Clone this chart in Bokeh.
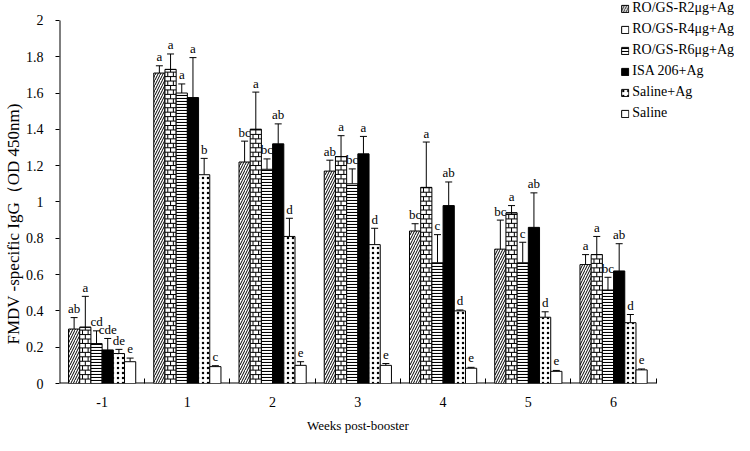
import numpy as np
from bokeh.plotting import figure
from bokeh.models import (ColumnDataSource, FixedTicker, Whisker, TeeHead, Legend,
                          LegendItem, Range1d)
from bokeh.core.properties import value
from bokeh.embed import file_html
from bokeh.resources import INLINE

# ---------------- data ----------------
weeks = ["-1", "1", "2", "3", "4", "5", "6"]
series_names = ["RO/GS-R2μg+Ag", "RO/GS-R4μg+Ag", "RO/GS-R6μg+Ag",
                "ISA 206+Ag", "Saline+Ag", "Saline"]

mean_r2 = [0.30, 1.71, 1.22, 1.17, 0.84, 0.74, 0.655]
mean_r4 = [0.31, 1.73, 1.40, 1.25, 1.08, 0.94, 0.71]
mean_r6 = [0.22, 1.60, 1.18, 1.10, 0.665, 0.665, 0.515]
mean_isa = [0.185, 1.575, 1.32, 1.265, 0.98, 0.86, 0.62]
mean_salag = [0.165, 1.15, 0.81, 0.765, 0.40, 0.365, 0.335]
mean_sal = [0.12, 0.093, 0.10, 0.10, 0.084, 0.067, 0.075]

sd_r2 = [0.063, 0.04, 0.115, 0.06, 0.04, 0.16, 0.055]
sd_r4 = [0.17, 0.085, 0.205, 0.115, 0.25, 0.04, 0.10]
sd_r6 = [0.07, 0.05, 0.057, 0.082, 0.155, 0.113, 0.07]
sd_isa = [0.063, 0.22, 0.11, 0.096, 0.13, 0.19, 0.15]
sd_salag = [0.023, 0.09, 0.10, 0.09, 0.005, 0.03, 0.045]
sd_sal = [0.02, 0.005, 0.02, 0.01, 0.005, 0.005, 0.005]

let_r2 = ["ab", "a", "bc", "ab", "bc", "bc", "a"]
let_r4 = ["a", "a", "a", "a", "a", "a", "a"]
let_r6 = ["cd", "a", "bc", "bc", "c", "c", "bc"]
let_isa = ["cde", "a", "ab", "a", "ab", "ab", "ab"]
let_salag = ["de", "b", "d", "d", "d", "d", "d"]
let_sal = ["e", "c", "e", "e", "e", "e", "e"]

y_ticks = [0, 0.2, 0.4, 0.6, 0.8, 1, 1.2, 1.4, 1.6, 1.8, 2]
y_tick_labels = ["0", "0.2", "0.4", "0.6", "0.8", "1", "1.2", "1.4", "1.6", "1.8", "2"]

means = [mean_r2, mean_r4, mean_r6, mean_isa, mean_salag, mean_sal]
sds = [sd_r2, sd_r4, sd_r6, sd_isa, sd_salag, sd_sal]
letters = [let_r2, let_r4, let_r6, let_isa, let_salag, let_sal]

# ---------------- layout ----------------
FONT = "Liberation Serif"
W, H = 734, 435
LEFT, BOTTOM = 53, 50           # border sizes (px)
CAT_PX = 86                      # px per week category
PLOT_H = 365                     # px from 0 to y_max (2)
n_cat = len(weeks)
y_max = y_ticks[-1]
frame_w = W - LEFT
frame_h = H - BOTTOM
x_end = -0.5 + frame_w / CAT_PX
y_end = y_max * frame_h / PLOT_H

styles = [
    dict(fill_color="white", hatch_pattern="/", hatch_color="black", hatch_scale=5, hatch_weight=1.0),
    dict(fill_color="white"),
    dict(fill_color="white", hatch_pattern="-", hatch_color="black", hatch_scale=3, hatch_weight=1.1),
    dict(fill_color="black"),
    dict(fill_color="white", hatch_pattern=".", hatch_color="black", hatch_scale=5, hatch_weight=0.6),
    dict(fill_color="white"),
]

p = figure(width=W, height=H, output_backend="svg", toolbar_location=None,
           x_range=Range1d(-0.5, x_end), y_range=Range1d(0, y_end),
           min_border_left=LEFT, min_border_right=0, min_border_top=0,
           min_border_bottom=BOTTOM)
p.outline_line_color = None
p.grid.visible = False
p.background_fill_color = "white"

# axis lines (only over the data region, like the original)
p.segment(x0=[-0.5, -0.5], y0=[0, 0], x1=[-0.5, n_cat - 0.5], y1=[y_max, 0],
          line_color="black", line_width=2)

n = len(series_names)
bw = 0.1314
base = np.arange(n_cat)
items = []
BRICK_H = 0.0245  # brick row height in data units (y)
for i in range(n):
    x = base + (i - (n - 1) / 2) * bw
    m = np.array(means[i])
    s = np.array(sds[i])
    src = ColumnDataSource(dict(x=x, top=m, upper=m + s, lab=letters[i]))
    r = p.vbar(x="x", top="top", width=bw, bottom=0, source=src,
               line_color="black", line_width=1, **styles[i])
    if i == 1:
        hx0, hx1, hy = [], [], []
        vx, vy0, vy1 = [], [], []
        for xc, tp in zip(x, m):
            k = 0
            yb = 0.0
            while yb < tp - 1e-9:
                yt = min(yb + BRICK_H, tp)
                hx0.append(xc - bw / 2); hx1.append(xc + bw / 2); hy.append(yt)
                cols = [xc] if k % 2 == 0 else [xc - bw / 4, xc + bw / 4]
                for cx in cols:
                    vx.append(cx); vy0.append(yb); vy1.append(yt)
                yb = yt
                k += 1
        p.segment(x0=hx0, y0=hy, x1=hx1, y1=hy, line_color="black", line_width=1)
        p.segment(x0=vx, y0=vy0, x1=vx, y1=vy1, line_color="black", line_width=1)
    items.append(LegendItem(label=series_names[i], renderers=[r]))
    w = Whisker(source=src, base="x", lower="top", upper="upper",
                line_color="black", line_width=1,
                upper_head=TeeHead(size=7, line_color="black", line_width=1),
                lower_head=None)
    p.add_layout(w)
    p.text(x="x", y="upper", text="lab", source=src, text_font=value(FONT),
           text_font_size="13px", text_align="center", text_baseline="alphabetic",
           y_offset=-9, text_color="black")

legend = Legend(items=items, location="top_right", glyph_width=9, glyph_height=9,
                label_text_font=FONT, label_text_font_size="14px", label_standoff=3,
                spacing=5, padding=0, margin=0, border_line_color=None,
                background_fill_alpha=0, label_height=14, label_width=96,
                label_text_color="black")
p.add_layout(legend)

# axes
NB = "\u00a0"
yax = p.yaxis[0]
yax.ticker = FixedTicker(ticks=y_ticks)
yax.major_label_overrides = dict(zip(y_ticks, y_tick_labels))
yax.major_tick_in = 0
yax.major_tick_out = 4
yax.minor_tick_in = 0
yax.minor_tick_out = 0
yax.axis_line_color = None
yax.major_tick_line_color = "black"
yax.major_label_text_font = FONT
yax.major_label_text_font_size = "14px"
yax.major_label_text_color = "black"
yax.major_label_standoff = 12
yax.axis_label = "FMDV -specific IgG（OD 450nm)" + NB * 15
yax.axis_label_text_font = FONT
yax.axis_label_text_font_size = "17px"
yax.axis_label_text_font_style = "normal"
yax.axis_label_text_color = "black"
yax.axis_label_standoff = 0

xax = p.xaxis[0]
xax.ticker = FixedTicker(ticks=list(range(n_cat)),
                         minor_ticks=[k + 0.5 for k in range(n_cat)])
xax.major_label_overrides = dict(zip(range(n_cat), weeks))
xax.major_tick_in = 0
xax.major_tick_out = 0
xax.minor_tick_in = 5
xax.minor_tick_out = 0
xax.minor_tick_line_color = "black"
xax.axis_line_color = None
xax.major_label_text_font = FONT
xax.major_label_text_font_size = "14px"
xax.major_label_text_color = "black"
xax.major_label_standoff = 13
xax.axis_label = "Weeks post-booster" + NB * 24
xax.axis_label_text_font = FONT
xax.axis_label_text_font_size = "13px"
xax.axis_label_text_font_style = "normal"
xax.axis_label_text_color = "black"
xax.axis_label_standoff = 8

open("out.html", "w").write(file_html(p, INLINE))
